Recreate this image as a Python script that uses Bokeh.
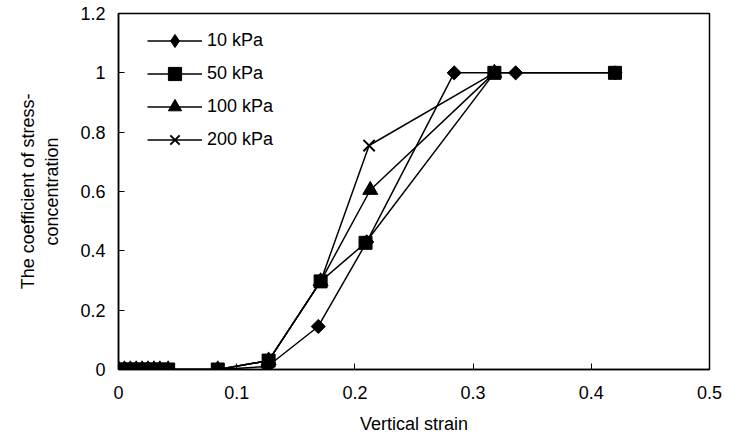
import math
from bokeh.plotting import figure
from bokeh.models import Range1d, FixedTicker, Legend
from bokeh.embed import file_html
from bokeh.resources import INLINE

# Data
strain_10 = [0, 0.005, 0.01, 0.015, 0.02, 0.025, 0.03, 0.035, 0.042, 0.084, 0.126, 0.169, 0.21, 0.284, 0.336, 0.42]
coef_10 = [0, 0, 0, 0, 0, 0, 0, 0, 0, 0, 0.01, 0.145, 0.43, 1.0, 1.0, 1.0]

strain_50 = [0, 0.005, 0.01, 0.015, 0.02, 0.025, 0.03, 0.035, 0.042, 0.084, 0.127, 0.171, 0.209, 0.318, 0.42]
coef_50 = [0, 0, 0, 0, 0, 0, 0, 0, 0, 0, 0.03, 0.297, 0.427, 1.0, 1.0]

strain_100 = [0, 0.005, 0.01, 0.015, 0.02, 0.025, 0.03, 0.035, 0.042, 0.084, 0.127, 0.171, 0.213, 0.318]
coef_100 = [0, 0, 0, 0, 0, 0, 0, 0, 0, 0, 0.03, 0.297, 0.605, 1.0]

strain_200 = [0, 0.005, 0.01, 0.015, 0.02, 0.025, 0.03, 0.035, 0.042, 0.084, 0.127, 0.171, 0.212, 0.318]
coef_200 = [0, 0, 0, 0, 0, 0, 0, 0, 0, 0, 0.03, 0.297, 0.755, 1.0]

x_ticks = [0, 0.1, 0.2, 0.3, 0.4, 0.5]
x_tick_labels = ["0", "0.1", "0.2", "0.3", "0.4", "0.5"]
y_ticks = [0, 0.2, 0.4, 0.6, 0.8, 1.0, 1.2]
y_tick_labels = ["0", "0.2", "0.4", "0.6", "0.8", "1", "1.2"]

FONT = "Liberation Sans"
FS = "18px"

p = figure(width=739, height=437, output_backend="svg", toolbar_location=None,
           x_range=Range1d(0, 0.5), y_range=Range1d(0, 1.2),
           frame_width=591, frame_height=356,
           min_border_left=118, min_border_right=30, min_border_top=13, min_border_bottom=68)
p.background_fill_color = "white"
p.border_fill_color = "white"
p.outline_line_color = "black"
p.outline_line_width = 1.5
p.xgrid.visible = False
p.ygrid.visible = False

items = []
series = [
    ("10 kPa", strain_10, coef_10, "square", 10, math.pi / 4),
    ("50 kPa", strain_50, coef_50, "square", 13, 0),
    ("100 kPa", strain_100, coef_100, "triangle", 15, 0),
    ("200 kPa", strain_200, coef_200, "x", 16, 0),
]
for name, xs, ys, marker, size, ang in series:
    ln = p.line(xs, ys, line_color="black", line_width=1.5)
    if ang:
        # legend swatch: the legend does not rotate markers, so a diamond glyph
        # placed on the series' first point (hidden under the markers) is used
        sw = p.scatter(x=xs[:1], y=ys[:1], marker="diamond", size=16,
                       fill_color="black", line_color="black", line_width=1)
    sc = p.scatter(xs, ys, marker=marker, size=size, angle=ang, fill_color="black",
                   line_color="black", line_width=2 if marker == "x" else 1)
    items.append((name, [ln, sw if ang else sc]))

legend = Legend(items=items, location=(29, 213))
legend.border_line_color = None
legend.background_fill_alpha = 0
legend.padding = 0
legend.margin = 0
legend.spacing = 0
legend.glyph_width = 55
legend.glyph_height = 33
legend.label_standoff = 5
legend.label_text_font = FONT
legend.label_text_font_size = FS
legend.label_text_color = "black"
p.add_layout(legend)

for ax in (p.xaxis, p.yaxis):
    ax.axis_line_color = "black"
    ax.axis_line_width = 1.5
    ax.major_tick_in = 6
    ax.major_tick_out = 0
    ax.minor_tick_line_color = None
    ax.major_tick_line_color = "black"
    ax.major_tick_line_width = 1
    ax.major_label_text_font = FONT
    ax.major_label_text_font_size = FS
    ax.major_label_text_color = "black"
    ax.axis_label_text_font = FONT
    ax.axis_label_text_font_size = FS
    ax.axis_label_text_font_style = "normal"
    ax.axis_label_text_color = "black"

p.xaxis.ticker = FixedTicker(ticks=x_ticks)
p.xaxis.major_label_overrides = {t: l for t, l in zip(x_ticks, x_tick_labels)}
p.yaxis.ticker = FixedTicker(ticks=y_ticks)
p.yaxis.major_label_overrides = {t: l for t, l in zip(y_ticks, y_tick_labels)}
p.xaxis.major_label_standoff = 16
p.yaxis.major_label_standoff = 13
p.xaxis.axis_label = "Vertical strain"
p.xaxis.axis_label_standoff = 12
p.yaxis.axis_label = "The coefficient of stress-\nconcentration"
p.yaxis.axis_label_standoff = 15

open("out.html", "w").write(file_html(p, INLINE))
